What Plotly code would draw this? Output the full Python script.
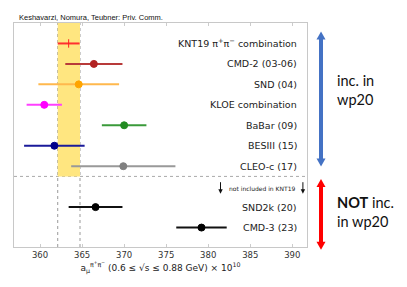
import plotly.graph_objects as go

labels = ["KNT19 π<sup>+</sup>π<sup>−</sup> combination", "CMD-2 (03-06)", "SND (04)", "KLOE combination",
          "BaBar (09)", "BESIII (15)", "CLEO-c (17)", "SND2k (20)", "CMD-3 (23)"]
rows = [0, 1, 2, 3, 4, 5, 6, 8, 9]
values = [363.4, 366.4, 364.6, 360.5, 370.0, 361.7, 369.9, 366.6, 379.2]
errors = [1.3, 3.4, 4.8, 2.1, 2.65, 3.6, 6.2, 3.2, 3.0]
marker_colors = ["#ff2020", "#b22222", "#ffa500", "#ff00ff", "#228b22", "#00008b", "#808080", "#000000", "#000000"]
bar_colors = ["#ff3030", "#b83a3a", "#ffb84d", "#ff40ff", "#3a9a3a", "#1a1a9a", "#999999", "#111111", "#111111"]
markers = ["line-ns", "circle", "circle", "circle", "circle", "circle", "circle", "circle", "circle"]
band = [362.1, 364.75]
x_ticks = [360, 365, 370, 375, 380, 385, 390]

# plot area in window pixels (page has an 8px body margin)
PL, PR, PT, PB = 14.0, 306.7, 23.3, 247.3
OFF = 8
W, H = 407 - OFF, 287 - OFF


def px_x(p):
    return (p - PL) / (PR - PL)


def px_y(p):
    return (PB - p) / (PB - PT)


fig = go.Figure()

for lab, r, v, e, mc, bc, ms in zip(labels, rows, values, errors, marker_colors, bar_colors, markers):
    fig.add_trace(go.Scatter(
        x=[v], y=[r], mode="markers",
        marker=dict(color=mc, size=7 if ms == "circle" else 6, symbol=ms,
                    line=dict(color=mc, width=1)),
        error_x=dict(type="data", array=[e], color=bc, thickness=2, width=0),
        showlegend=False, hoverinfo="skip"))
    fig.add_annotation(x=390.75, y=r, xref="x", yref="y", text=lab, showarrow=False,
                       xanchor="right", yanchor="middle",
                       font=dict(family="DejaVu Sans", size=9.5, color="#222"))

# KNT19 band
fig.add_shape(type="rect", x0=band[0], x1=band[1], y0=-1.0, y1=6.5, xref="x", yref="y",
              fillcolor="#ffe680", line=dict(width=0), layer="below")
for b in band:
    fig.add_shape(type="line", x0=b, x1=b, y0=0, y1=1, xref="x", yref="paper",
                  line=dict(color="#999999", width=1, dash="dot"), layer="below")
fig.add_shape(type="line", x0=0, x1=1, y0=6.5, y1=6.5, xref="paper", yref="y",
              line=dict(color="#aaaaaa", width=1, dash="dot"), layer="below")

# note
fig.add_annotation(x=px_x(262), y=px_y(188.3), xref="paper", yref="paper", text="not included in KNT19",
                   showarrow=False, font=dict(family="DejaVu Sans", size=6, color="#222"),
                   xanchor="center", yanchor="middle")


def arrow(xp, y_top, y_bot, color, width, hw, hl, up=True, down=True):
    """vertical arrow drawn with shapes, coordinates in window pixels"""
    s_top = y_top + (hl - 1 if up else 0)
    s_bot = y_bot - (hl - 1 if down else 0)
    fig.add_shape(type="line", xref="paper", yref="paper",
                  x0=px_x(xp), x1=px_x(xp), y0=px_y(s_top), y1=px_y(s_bot),
                  line=dict(color=color, width=width))
    if up:
        fig.add_shape(type="path", xref="paper", yref="paper",
                      path=f"M {px_x(xp)} {px_y(y_top)} L {px_x(xp - hw)} {px_y(y_top + hl)} "
                           f"L {px_x(xp + hw)} {px_y(y_top + hl)} Z",
                      fillcolor=color, line=dict(width=0))
    if down:
        fig.add_shape(type="path", xref="paper", yref="paper",
                      path=f"M {px_x(xp)} {px_y(y_bot)} L {px_x(xp - hw)} {px_y(y_bot - hl)} "
                           f"L {px_x(xp + hw)} {px_y(y_bot - hl)} Z",
                      fillcolor=color, line=dict(width=0))


arrow(220.3, 182.5, 194.0, "#111111", 1, 2.2, 4.5, up=False)
arrow(302.6, 182.5, 194.0, "#111111", 1, 2.2, 4.5, up=False)

# title
fig.add_annotation(x=px_x(17), y=px_y(17.5), xref="paper", yref="paper",
                   text="Keshavarzi, Nomura, Teubner: Priv. Comm.",
                   showarrow=False, font=dict(family="Liberation Sans", size=7.5, color="#111"),
                   xanchor="left", yanchor="middle")

fig.update_layout(
    width=W, height=H,
    margin=dict(l=PL - OFF, r=W - (PR - OFF), t=PT - OFF, b=H - (PB - OFF), autoexpand=False),
    paper_bgcolor="white", plot_bgcolor="white",
    xaxis=dict(range=[356.9, 391.75], tickvals=x_ticks, ticks="inside", ticklen=3, tickcolor="#cccccc",
               showline=True, linecolor="#c8c8c8", linewidth=1, mirror="ticks", showgrid=False, zeroline=False,
               tickfont=dict(family="DejaVu Sans", size=8.5, color="#333"), automargin=False,
               title=dict(text="a<sub>μ</sub><sup>π<sup>+</sup>π<sup>−</sup></sup> (0.6 ≤ √s ≤ 0.88 GeV) × 10<sup>10</sup>",
                          font=dict(family="DejaVu Sans", size=9, color="#222"), standoff=2)),
    yaxis=dict(range=[9.95, -1.0], showticklabels=False, ticks="", showgrid=False, zeroline=False,
               showline=True, linecolor="#c8c8c8", linewidth=1, mirror=True, automargin=False),
)

# side arrows
arrow(320.7, 31.7, 166.7, "#4472c4", 4, 4.5, 8)
arrow(320.7, 179.3, 250.0, "#ff0000", 4, 4.5, 8)

fig.add_annotation(x=px_x(335), y=px_y(90), xref="paper", yref="paper", text="inc. in<br>wp20",
                   showarrow=False, xanchor="left", yanchor="middle", align="left",
                   font=dict(family="Lato", size=14.5, color="#111"))
fig.add_annotation(x=px_x(335), y=px_y(212), xref="paper", yref="paper", text="<b>NOT</b> inc.<br>in wp20",
                   showarrow=False, xanchor="left", yanchor="middle", align="left",
                   font=dict(family="Lato", size=14.5, color="#111"))

fig.write_html("out.html")
